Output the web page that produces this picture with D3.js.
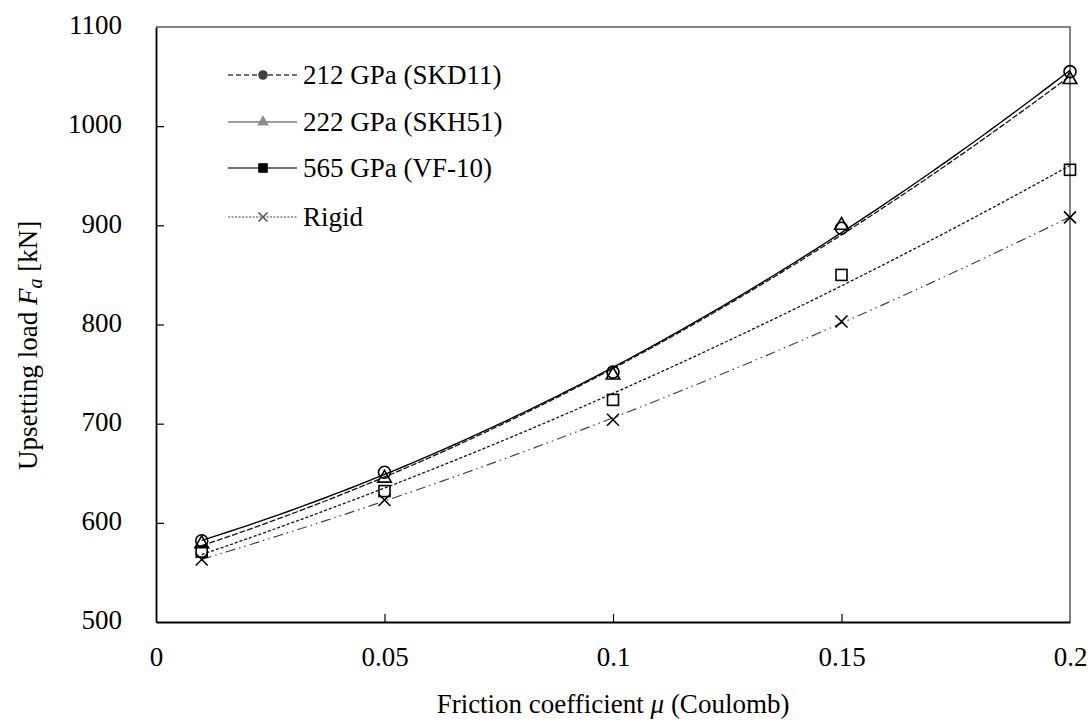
<!DOCTYPE html>
<html>
<head>
<meta charset="utf-8">
<script src="https://cdn.jsdelivr.net/npm/d3@7"></script>
<style>
  body { margin: 0; background: #fff; }
  text { font-family: "Liberation Serif", "Times New Roman", serif; }
</style>
</head>
<body>
<svg id="chart" width="1091" height="724"></svg>
<script>
// data
var mu = [0.01, 0.05, 0.1, 0.15, 0.2];
var skd11 = [582, 651, 752, 897, 1055];   // 212 GPa, circles
var skh51 = [579, 645, 749, 900, 1047];   // 222 GPa, triangles
var vf10  = [571, 632, 724, 850, 956];    // squares
var rigid = [563, 623, 704, 803, 908];    // crosses
var xTicks = [0, 0.05, 0.1, 0.15, 0.2];
var yTicks = [500, 600, 700, 800, 900, 1000, 1100];
var legendLabels = ["212 GPa (SKD11)", "222 GPa (SKH51)", "565 GPa (VF-10)", "Rigid"];

var svg = d3.select("#chart");
var pl = 156, pr = 1070, pt = 27, pb = 622;
var fs = 27;

var x = d3.scaleLinear().domain([0, 0.2]).range([pl, pr]);
var y = d3.scaleLinear().domain([500, 1100]).range([pb, pt]);

// frame: top and right grey
svg.append("path")
  .attr("d", "M" + pl + "," + pt + "H" + pr + "V" + pb)
  .attr("fill", "none").attr("stroke", "#595959").attr("stroke-width", 1.5);

var xAxis = svg.append("g").attr("transform", "translate(0," + pb + ")")
  .call(d3.axisBottom(x).tickValues(xTicks).tickSizeInner(-8).tickSizeOuter(0).tickPadding(25)
    .tickFormat(function(d){ return d === 0 ? "0" : String(+d.toFixed(2)); }));
var yAxis = svg.append("g").attr("transform", "translate(" + pl + ",0)")
  .call(d3.axisLeft(y).tickValues(yTicks).tickSizeInner(-8).tickSizeOuter(0).tickPadding(34)
    .tickFormat(d3.format("d")));
[xAxis, yAxis].forEach(function(a){
  a.select(".domain").attr("stroke", "#000").attr("stroke-width", 1.8);
  a.selectAll(".tick line").attr("stroke", "#000").attr("stroke-width", 1.2);
  a.selectAll(".tick text").attr("font-size", fs).attr("fill", "#000")
    .style("font-family", "'Liberation Serif', serif");
});
xAxis.selectAll(".tick").filter(function(d){ return d === 0 || d === 0.2; }).select("line").remove();
yAxis.selectAll(".tick").filter(function(d){ return d === 500 || d === 1100; }).select("line").remove();
yAxis.selectAll(".tick text").attr("dy", "0.25em");

// quadratic least-squares trendline, like the spreadsheet one
function quadFit(xs, ys) {
  var n = xs.length, s = [0,0,0,0,0], t = [0,0,0];
  for (var i = 0; i < n; i++) {
    var p = 1;
    for (var k = 0; k < 5; k++) { s[k] += p; if (k < 3) t[k] += p * ys[i]; p *= xs[i]; }
  }
  var A = [[s[0],s[1],s[2],t[0]],[s[1],s[2],s[3],t[1]],[s[2],s[3],s[4],t[2]]];
  for (var c = 0; c < 3; c++) {
    for (var r = c + 1; r < 3; r++) {
      var f = A[r][c] / A[c][c];
      for (var j = c; j < 4; j++) A[r][j] -= f * A[c][j];
    }
  }
  var b = [0,0,0];
  for (var r2 = 2; r2 >= 0; r2--) {
    var v = A[r2][3];
    for (var j2 = r2 + 1; j2 < 3; j2++) v -= A[r2][j2] * b[j2];
    b[r2] = v / A[r2][r2];
  }
  return function(xx){ return b[0] + b[1]*xx + b[2]*xx*xx; };
}

var series = [
  {vals: skd11, dash: null, color: "#000", width: 1.4, mark: "circle"},
  {vals: skh51, dash: "6,2", color: "#111", width: 1.3, mark: "triangle"},
  {vals: vf10, dash: "3,2", color: "#111", width: 1.3, mark: "square"},
  {vals: rigid, dash: "10,4,1.5,4,1.5,4", color: "#444", width: 1.2, mark: "cross"}
];

var line = d3.line().x(function(d){ return x(d[0]); }).y(function(d){ return y(d[1]); });

series.forEach(function(s){
  var fit = quadFit(mu, s.vals);
  var pts = d3.range(0, 101).map(function(i){
    var xx = mu[0] + (mu[mu.length-1] - mu[0]) * i / 100;
    return [xx, fit(xx)];
  });
  svg.append("path").attr("d", line(pts)).attr("fill", "none")
    .attr("stroke", s.color).attr("stroke-width", s.width)
    .attr("stroke-dasharray", s.dash);
});

function drawMark(g, kind, cx, cy, opts) {
  opts = opts || {};
  var fill = opts.fill || "none", stroke = opts.stroke || "#000";
  if (kind === "circle") {
    g.append("circle").attr("cx", cx).attr("cy", cy).attr("r", opts.r || 6)
      .attr("fill", fill).attr("stroke", stroke).attr("stroke-width", 1.6);
  } else if (kind === "triangle") {
    g.append("path").attr("d", d3.symbol(d3.symbolTriangle, opts.size || 80)())
      .attr("transform", "translate(" + cx + "," + cy + ")")
      .attr("fill", fill).attr("stroke", stroke).attr("stroke-width", 1.6);
  } else if (kind === "square") {
    var h = opts.half || 5.5;
    g.append("rect").attr("x", cx - h).attr("y", cy - h).attr("width", 2*h).attr("height", 2*h)
      .attr("fill", fill).attr("stroke", stroke).attr("stroke-width", 1.6);
  } else {
    var c = opts.half || 6;
    g.append("path").attr("d", "M" + (cx-c) + "," + (cy-c) + "L" + (cx+c) + "," + (cy+c) +
      "M" + (cx-c) + "," + (cy+c) + "L" + (cx+c) + "," + (cy-c))
      .attr("stroke", stroke).attr("stroke-width", 1.6);
  }
}

var markG = svg.append("g");
series.forEach(function(s){
  s.vals.forEach(function(v, i){ drawMark(markG, s.mark, x(mu[i]), y(v)); });
});

// legend
var legRows = [75, 122, 168, 217];
var legStyles = [
  {dash: "5,3", stroke: "#404040", mark: "circle", opts: {fill: "#404040", stroke: "#404040", r: 4}},
  {dash: null, stroke: "#7f7f7f", mark: "triangle", opts: {fill: "#8c8c8c", stroke: "#8c8c8c", size: 35}},
  {dash: null, stroke: "#404040", mark: "square", opts: {fill: "#000", stroke: "#000", half: 4}},
  {dash: "2,1.5", stroke: "#7f7f7f", mark: "cross", opts: {stroke: "#555", half: 4.5}}
];
var leg = svg.append("g");
legendLabels.forEach(function(lbl, i){
  var st = legStyles[i], ly = legRows[i];
  leg.append("line").attr("x1", 228).attr("x2", 297).attr("y1", ly).attr("y2", ly)
    .attr("stroke", st.stroke).attr("stroke-width", 1.3).attr("stroke-dasharray", st.dash);
  drawMark(leg, st.mark, 263, ly, st.opts);
  leg.append("text").attr("x", 303).attr("y", ly).attr("dy", "0.33em")
    .attr("font-size", fs).attr("fill", "#000").text(lbl);
});

// axis titles
var xt = svg.append("text").attr("x", (pl + pr) / 2).attr("y", 713)
  .attr("text-anchor", "middle").attr("font-size", fs);
xt.append("tspan").text("Friction coefficient ");
xt.append("tspan").attr("font-style", "italic").text("\u03bc");
xt.append("tspan").text(" (Coulomb)");

var yt = svg.append("text").attr("transform", "translate(37,470) rotate(-90)")
  .attr("text-anchor", "start").attr("font-size", fs);
yt.append("tspan").text("Upsetting load ");
yt.append("tspan").attr("font-style", "italic").text("F");
yt.append("tspan").attr("font-style", "italic").attr("font-size", 20).attr("dy", 5).text("a");
yt.append("tspan").attr("dy", -5).text(" [kN]");
</script>
</body>
</html>
